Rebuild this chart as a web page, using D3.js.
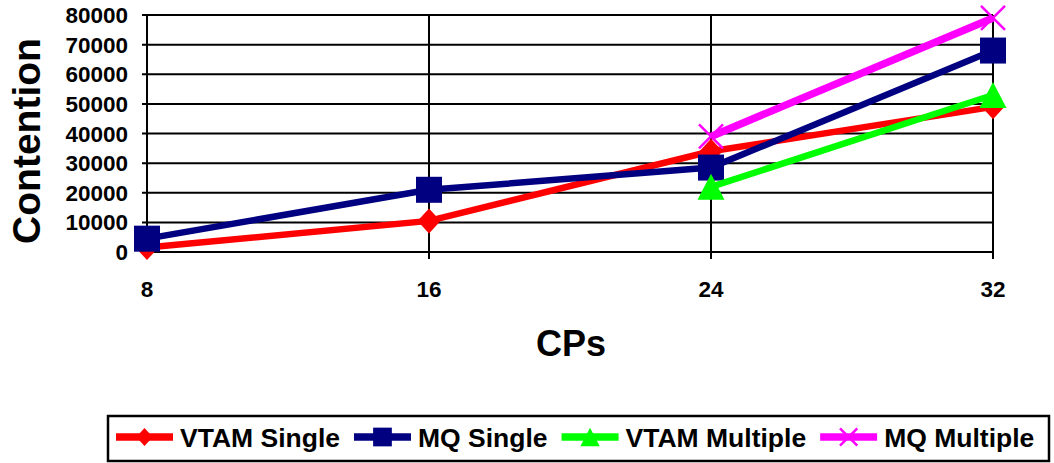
<!DOCTYPE html>
<html><head><meta charset="utf-8">
<script src="https://cdn.jsdelivr.net/npm/d3@7"></script>
<style>body{margin:0;background:#fff}svg{display:block}text{font-family:"Liberation Sans",Arial,sans-serif;font-weight:bold;fill:#000}</style>
</head><body><svg id="c" width="1054" height="463"></svg>
<script>
const cps = [8, 16, 24, 32];
const vtamSingle = [1500, 10500, 34000, 49000];
const mqSingle = [4500, 21000, 28500, 68000];
const vtamMultiple = [null, null, 22000, 53000];
const mqMultiple = [null, null, 39000, 79000];
const yTicks = [0, 10000, 20000, 30000, 40000, 50000, 60000, 70000, 80000];
const seriesNames = ["VTAM Single", "MQ Single", "VTAM Multiple", "MQ Multiple"];
const seriesColors = ["#FF0000", "#000080", "#00FF00", "#FF00FF"];
const seriesMarkers = ["diamond", "square", "triangle", "x"];
const seriesValues = [vtamSingle, mqSingle, vtamMultiple, mqMultiple];

const svg = d3.select("#c");
const x = d3.scaleLinear().domain([8, 32]).range([147, 993]);
const y = d3.scaleLinear().domain([0, 80000]).range([252, 15]);

svg.append("g").selectAll("line").data(yTicks).join("line")
  .attr("x1", x(8) - 5).attr("x2", x(32)).attr("y1", d => y(d)).attr("y2", d => y(d))
  .attr("stroke", "#000").attr("stroke-width", 2);
svg.append("g").selectAll("line").data(cps).join("line")
  .attr("x1", d => x(d)).attr("x2", d => x(d)).attr("y1", y(80000)).attr("y2", y(0) + 7)
  .attr("stroke", "#000").attr("stroke-width", 2);

svg.append("g").selectAll("text").data(yTicks).join("text")
  .attr("x", 128).attr("y", d => y(d) + 8).attr("text-anchor", "end")
  .style("font-size", "22.5px").text(d => d);
svg.append("g").selectAll("text").data(cps).join("text")
  .attr("x", d => x(d)).attr("y", 297).attr("text-anchor", "middle")
  .style("font-size", "22.5px").text(d => d);

svg.append("text").attr("x", 571).attr("y", 356).attr("text-anchor", "middle")
  .style("font-size", "36px").text("CPs");
svg.append("text").attr("transform", "translate(40,141) rotate(-90)").attr("text-anchor", "middle")
  .style("font-size", "39px").text("Contention");

function marker(g, type, color, cx, cy, scale) {
  const s = scale || 1;
  if (type === "diamond") {
    g.append("path").attr("d", `M${cx},${cy-12.5*s}L${cx+11.5*s},${cy}L${cx},${cy+12.5*s}L${cx-11.5*s},${cy}Z`).attr("fill", color);
  } else if (type === "square") {
    g.append("rect").attr("x", cx-13*s).attr("y", cy-13*s).attr("width", 26*s).attr("height", 26*s).attr("fill", color);
  } else if (type === "triangle") {
    g.append("path").attr("d", `M${cx},${cy-13*s}L${cx+13.5*s},${cy+13*s}L${cx-13.5*s},${cy+13*s}Z`).attr("fill", color);
  } else {
    const h = 12*s;
    g.append("path").attr("d", `M${cx-h},${cy-h}L${cx+h},${cy+h}M${cx-h},${cy+h}L${cx+h},${cy-h}`)
      .attr("stroke", color).attr("stroke-width", 2.5).attr("fill", "none");
  }
}

const line = d3.line().defined(d => d[1] != null).x(d => x(d[0])).y(d => y(d[1]));
seriesValues.forEach((vals, i) => {
  const g = svg.append("g");
  const pts = cps.map((c, j) => [c, vals[j]]);
  g.append("path").attr("d", line(pts)).attr("fill", "none")
    .attr("stroke", seriesColors[i]).attr("stroke-width", i === 3 ? 7.5 : 6.5);
  pts.filter(p => p[1] != null).forEach(p => marker(g, seriesMarkers[i], seriesColors[i], x(p[0]), y(p[1])));
});

const lg = svg.append("g");
lg.append("rect").attr("x", 108).attr("y", 416).attr("width", 941).attr("height", 45)
  .attr("fill", "#fff").attr("stroke", "#000").attr("stroke-width", 2.5);
let lx = 116;
seriesNames.forEach((name, i) => {
  const cy = 437;
  lg.append("line").attr("x1", lx).attr("x2", lx + 57).attr("y1", cy).attr("y2", cy)
    .attr("stroke", seriesColors[i]).attr("stroke-width", 7.5);
  marker(lg, seriesMarkers[i], seriesColors[i], lx + 28.5, cy, 0.72);
  const t = lg.append("text").attr("x", lx + 64).attr("y", cy + 10).style("font-size", "26.5px").text(name);
  lx = lx + 64 + t.node().getComputedTextLength() + 14;
});
</script></body></html>
